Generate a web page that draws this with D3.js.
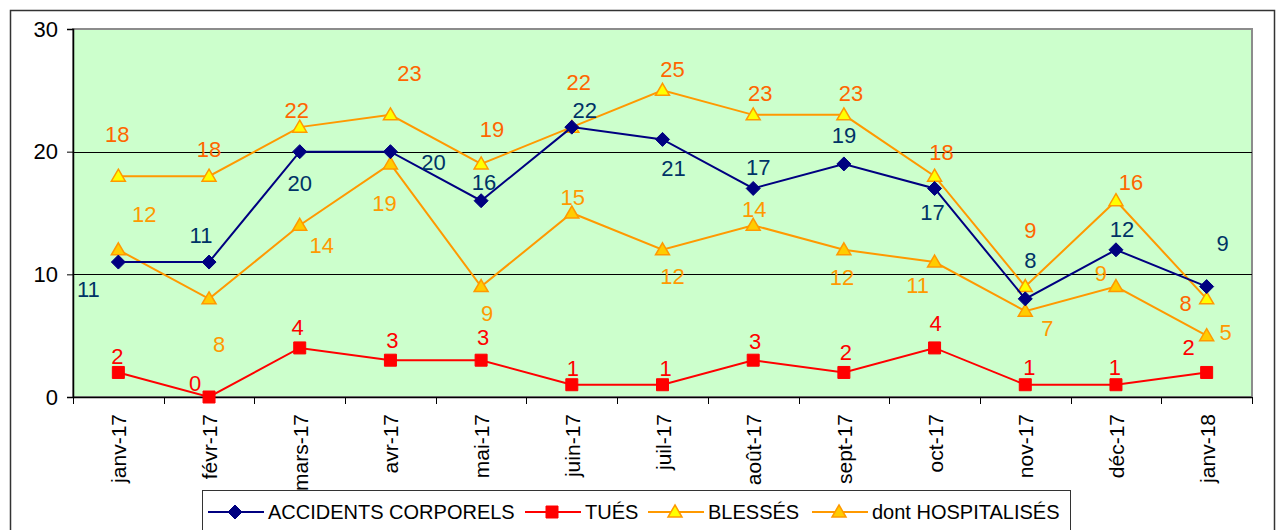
<!DOCTYPE html>
<html>
<head>
<meta charset="utf-8">
<script src="https://cdn.jsdelivr.net/npm/d3@7"></script>
<style>
  body { margin: 0; background: #fff; }
  svg { font-family: Arial, "Liberation Sans", sans-serif; }
</style>
</head>
<body>
<div id="chart"></div>
<script>
// Data
var months = ["janv-17", "févr-17", "mars-17", "avr-17", "mai-17", "juin-17", "juil-17",
              "août-17", "sept-17", "oct-17", "nov-17", "déc-17", "janv-18"];
var accidents = [11, 11, 20, 20, 16, 22, 21, 17, 19, 17, 8, 12, 9];
var tues = [2, 0, 4, 3, 3, 1, 1, 3, 2, 4, 1, 1, 2];
var blesses = [18, 18, 22, 23, 19, 22, 25, 23, 23, 18, 9, 16, 8];
var hospitalises = [12, 8, 14, 19, 9, 15, 12, 14, 12, 11, 7, 9, 5];
var yTicks = [0, 10, 20, 30];

// Label placement (offset of each value label from its point)
var accOff = [[-30, 27], [-8, -27], [0, 31], [43, 10], [3, -19], [13, -17], [11, 29],
              [5, -21], [0, -29], [-2, 24], [5, -39], [6, -21], [16, -44]];
var tuesOff = [[-1, -16], [-14, -14], [-2, -21], [2, -20], [2, -23], [1, -17], [3, -17],
               [2, -19], [2, -20], [1, -25], [4, -18], [-1, -18], [-18, -25]];
var blesOff = [[-1, -42], [0, -27], [-3, -17], [19, -42], [11, -35], [7, -45], [10, -21],
               [7, -22], [7, -22], [7, -24], [5, -57], [15, -19], [-21, 4]];
var hospOff = [[26, -36], [10, 45], [22, 20], [-6, 39], [6, 26], [1, -16], [10, 26],
               [1, -16], [-2, 27], [-17, 23], [22, 17], [-15, -14], [19, -4]];

var width = 1276, height = 530;
var plot = { left: 73, right: 1252, top: 29, bottom: 397 };

var svg = d3.select("#chart").append("svg")
    .attr("width", width)
    .attr("height", height);

// Outer frame
svg.append("rect")
    .attr("x", 10.5).attr("y", 10.5)
    .attr("width", 1264).attr("height", 540)
    .attr("fill", "#fff")
    .attr("stroke", "#333").attr("stroke-width", 1.5);

// Scales
var x = d3.scaleBand()
    .domain(months)
    .range([plot.left, plot.right]);

var y = d3.scaleLinear()
    .domain([0, 30])
    .range([plot.bottom, plot.top]);

function cx(i) { return x(months[i]) + x.bandwidth() / 2; }

// Plot background
svg.append("rect")
    .attr("x", plot.left).attr("y", plot.top)
    .attr("width", plot.right - plot.left).attr("height", plot.bottom - plot.top)
    .attr("fill", "#CCFFCC")
    .attr("stroke", "#8c8c8c").attr("stroke-width", 2);

// Gridlines
svg.append("g").selectAll("line")
    .data([10, 20])
    .enter().append("line")
    .attr("x1", plot.left).attr("x2", plot.right)
    .attr("y1", function (d) { return Math.round(y(d)) + 0.5; })
    .attr("y2", function (d) { return Math.round(y(d)) + 0.5; })
    .attr("stroke", "#000").attr("stroke-width", 1);

// Y axis
var yAxis = svg.append("g")
    .attr("transform", "translate(" + plot.left + ",0)")
    .call(d3.axisLeft(y).tickValues(yTicks).tickSize(6).tickPadding(9));
yAxis.select(".domain").attr("stroke", "#000").attr("stroke-width", 1.5);
yAxis.selectAll("text").attr("font-size", 22).attr("fill", "#000")
    .attr("font-family", "Arial, 'Liberation Sans', sans-serif");

// X axis: ticks at category boundaries
var xAxisG = svg.append("g");
xAxisG.append("line")
    .attr("x1", plot.left).attr("x2", plot.right)
    .attr("y1", plot.bottom + 0.5).attr("y2", plot.bottom + 0.5)
    .attr("stroke", "#000").attr("stroke-width", 1.5);
var bounds = months.map(function (m) { return x(m); }).concat([plot.right]);
xAxisG.selectAll(".tk")
    .data(bounds)
    .enter().append("line")
    .attr("x1", function (d) { return Math.round(d) + 0.5; })
    .attr("x2", function (d) { return Math.round(d) + 0.5; })
    .attr("y1", plot.bottom).attr("y2", plot.bottom + 7)
    .attr("stroke", "#000");
xAxisG.selectAll(".lbl")
    .data(months)
    .enter().append("text")
    .attr("transform", function (d, i) {
        return "translate(" + (cx(i) + 8) + "," + 414 + ") rotate(-90)";
    })
    .attr("text-anchor", "end")
    .attr("font-size", 21)
    .attr("fill", "#000")
    .text(function (d) { return d; });

// Series
var series = [
    { name: "ACCIDENTS CORPORELS", values: accidents, line: "#000080", fill: "#000080", stroke: "#000080",
      marker: "diamond", label: "#003366", off: accOff },
    { name: "TUÉS", values: tues, line: "#FF0000", fill: "#FF0000", stroke: "#FF0000",
      marker: "square", label: "#FF0000", off: tuesOff },
    { name: "BLESSÉS", values: blesses, line: "#FF9900", fill: "#FFFF00", stroke: "#FF9900",
      marker: "triangle", label: "#FF6600", off: blesOff },
    { name: "dont HOSPITALISÉS", values: hospitalises, line: "#FF9900", fill: "#FFCC00", stroke: "#FF9900",
      marker: "triangle", label: "#FF9900", off: hospOff }
];

var line = d3.line()
    .x(function (d, i) { return cx(i); })
    .y(function (d) { return y(d); });

function markerPath(type) {
    if (type === "diamond") return "M0,-7L7,0L0,7L-7,0Z";
    if (type === "square") return "M-6,-6H6V6H-6Z";
    return "M0,-7L7,5H-7Z";
}

// Draw order: hospitalisés, blessés, accidents, tués
[3, 2, 0, 1].forEach(function (k) {
    var s = series[k];
    var g = svg.append("g");
    g.append("path")
        .datum(s.values)
        .attr("d", line)
        .attr("fill", "none")
        .attr("stroke", s.line)
        .attr("stroke-width", 2);
    g.selectAll(".mk")
        .data(s.values)
        .enter().append("path")
        .attr("transform", function (d, i) { return "translate(" + cx(i) + "," + y(d) + ")"; })
        .attr("d", markerPath(s.marker))
        .attr("fill", s.fill)
        .attr("stroke", s.stroke)
        .attr("stroke-width", s.marker === "triangle" ? 1.5 : 1);
});

// Value labels
series.forEach(function (s) {
    svg.append("g").selectAll("text")
        .data(s.values)
        .enter().append("text")
        .attr("x", function (d, i) { return cx(i) + s.off[i][0]; })
        .attr("y", function (d, i) { return y(d) + s.off[i][1]; })
        .attr("dy", "0.36em")
        .attr("text-anchor", "middle")
        .attr("font-size", 22)
        .attr("fill", s.label)
        .text(function (d) { return d; });
});

// Legend
var legend = svg.append("g");
legend.append("rect")
    .attr("x", 202.5).attr("y", 490.5)
    .attr("width", 868).attr("height", 60)
    .attr("fill", "#fff")
    .attr("stroke", "#333").attr("stroke-width", 1);

var legendX = [208, 525, 648, 812];
series.forEach(function (s, k) {
    var lx = legendX[k], ly = 512;
    var item = legend.append("g");
    item.append("line")
        .attr("x1", lx).attr("x2", lx + 56)
        .attr("y1", ly).attr("y2", ly)
        .attr("stroke", s.line).attr("stroke-width", 2);
    item.append("path")
        .attr("transform", "translate(" + (lx + 27) + "," + ly + ")")
        .attr("d", markerPath(s.marker))
        .attr("fill", s.fill)
        .attr("stroke", s.stroke)
        .attr("stroke-width", s.marker === "triangle" ? 1.5 : 1);
    item.append("text")
        .attr("x", lx + 60).attr("y", ly)
        .attr("dy", "0.36em")
        .attr("font-size", 20)
        .attr("fill", "#000")
        .text(s.name);
});
</script>
</body>
</html>
